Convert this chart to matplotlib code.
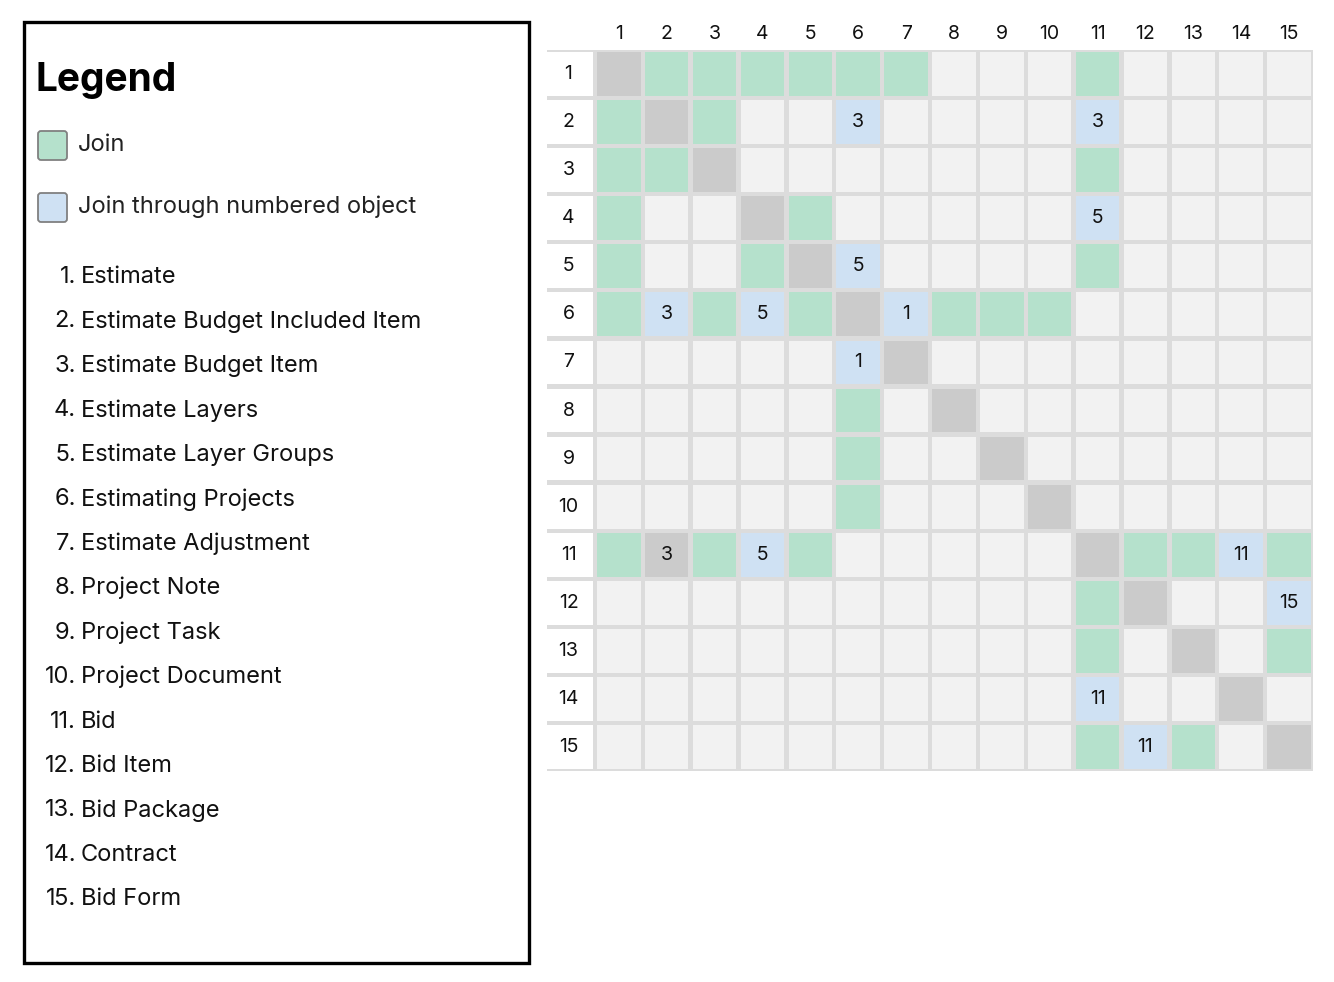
import matplotlib
matplotlib.use("Agg")
import matplotlib.pyplot as plt
from matplotlib.patches import Rectangle, FancyBboxPatch

plt.rcParams["font.family"] = ["Inter", "DejaVu Sans"]

categories = ["Estimate", "Estimate Budget Included Item", "Estimate Budget Item",
              "Estimate Layers", "Estimate Layer Groups", "Estimating Projects",
              "Estimate Adjustment", "Project Note", "Project Task", "Project Document",
              "Bid", "Bid Item", "Bid Package", "Contract", "Bid Form"]

# (row, col) direct joins
joins = [(1,2),(1,3),(1,4),(1,5),(1,6),(1,7),(1,11),
         (2,1),(2,3),
         (3,1),(3,2),(3,11),
         (4,1),(4,5),
         (5,1),(5,4),(5,11),
         (6,1),(6,3),(6,5),(6,8),(6,9),(6,10),
         (8,6),(9,6),(10,6),
         (11,1),(11,3),(11,5),(11,12),(11,13),(11,15),
         (12,11),(13,11),(13,15),(15,11),(15,13)]
# (row, col, through-object)
through = [(2,6,3),(2,11,3),(4,11,5),(5,6,5),(6,2,3),(6,4,5),(6,7,1),(7,6,1),
           (11,4,5),(11,14,11),(12,15,15),(14,11,11),(15,12,11)]
# gray cells with label
gray_labeled = [(11,2,3)]

GREEN, BLUE, GRAY, EMPTY, LINE = "#b5e1cc", "#cfe1f3", "#cbcbcb", "#f2f2f2", "#dcdcdc"

W, H = 1334, 982
fig = plt.figure(figsize=(W/100, H/100), dpi=100)

# Legend panel
lax = fig.add_axes([0, 0, 1, 1])
lax.set_xlim(0, W); lax.set_ylim(H, 0); lax.axis("off")
lax.add_patch(Rectangle((23.5, 21.5), 505, 941, fill=False, lw=2.4, ec="black"))
lax.text(36, 80, "Legend", fontsize=28, fontweight="bold", va="center", ha="left")
for y, c, lab in [(145, GREEN, "Join"), (207, BLUE, "Join through numbered object")]:
    lax.add_patch(FancyBboxPatch((38, y-14), 29, 29, boxstyle="round,pad=0,rounding_size=3",
                                 fc=c, ec="#808080", lw=1.3))
    lax.text(78, y, lab, fontsize=17, va="center", ha="left", color="#222")
y0, dy = 277, 44.45
for i, name in enumerate(categories):
    y = y0 + i*dy
    lax.text(76, y, f"{i+1}.", fontsize=17, va="center", ha="right", color="#111")
    lax.text(81, y, name, fontsize=17, va="center", ha="left", color="#111")

# Matrix
n = len(categories)
x_left, x_right, y_top, y_bot = 547, 1313, 50, 771
ax = fig.add_axes([x_left/W, 1 - y_bot/H, (x_right-x_left)/W, (y_bot-y_top)/H])
ax.set_xlim(0, n+1); ax.set_ylim(n, 0); ax.axis("off")
ax.add_patch(Rectangle((0, 0), n+1, n, fc=LINE, ec="none"))
g = 0.045
colors = {}
for r, c in joins: colors[(r, c)] = (GREEN, "")
for r, c, t in through: colors[(r, c)] = (BLUE, str(t))
for r, c, t in gray_labeled: colors[(r, c)] = (GRAY, str(t))
for r in range(1, n+1):
    ax.add_patch(Rectangle((0, r-1+g), 1-g, 1-2*g, fc="white", ec="none"))
    ax.text(0.45, r-0.5, str(r), fontsize=14, ha="center", va="center", color="#111")
    for c in range(1, n+1):
        fc, txt = colors.get((r, c), (GRAY if r == c else EMPTY, ""))
        ax.add_patch(Rectangle((c+g, r-1+g), 1-2*g, 1-2*g, fc=fc, ec="none"))
        if txt:
            ax.text(c+0.5, r-0.5, txt, fontsize=14, ha="center", va="center", color="#111")
for c in range(1, n+1):
    ax.text(c+0.5, -0.33, str(c), fontsize=14, ha="center", va="center", color="#111", clip_on=False)

fig.savefig("out.png", dpi=100, facecolor="white")
